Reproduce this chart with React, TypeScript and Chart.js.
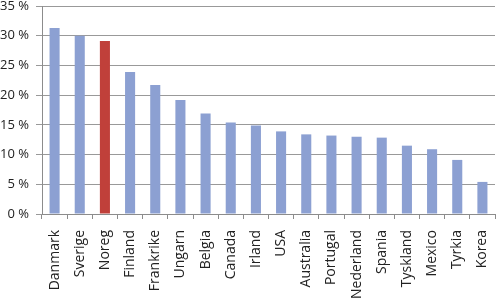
import React, { useEffect, useRef } from "react";
import { Chart, registerables } from "chart.js";

Chart.register(...registerables);

const categories = ["Danmark", "Sverige", "Noreg", "Finland", "Frankrike", "Ungarn", "Belgia", "Canada", "Irland", "USA", "Australia", "Portugal", "Nederland", "Spania", "Tyskland", "Mexico", "Tyrkia", "Korea"];
const values = [31.3, 30.0, 29.1, 23.9, 21.7, 19.2, 16.9, 15.4, 14.9, 13.9, 13.4, 13.2, 13.0, 12.85, 11.5, 10.9, 9.1, 5.4];
const highlight = "Noreg";
const yMax = 35;
const yStep = 5;

export default function App() {
  const ref = useRef<HTMLCanvasElement>(null);
  useEffect(() => {
    const ctx = ref.current!;
    const chart = new Chart(ctx, {
      type: "bar",
      data: {
        labels: categories,
        datasets: [
          {
            data: values,
            backgroundColor: categories.map((c) => (c === highlight ? "#c0403a" : "#8ca0d2")),
            barPercentage: 0.4,
            categoryPercentage: 1,
          },
        ],
      },
      options: {
        animation: false,
        responsive: false,
        maintainAspectRatio: false,
        layout: { padding: { top: 6, right: 5, left: 0, bottom: 0 } },
        plugins: { legend: { display: false }, tooltip: { enabled: false } },
        scales: {
          x: {
            grid: { drawOnChartArea: false, offset: true, tickLength: 5, color: "#8c8c8c" },
            border: { color: "#8c8c8c" },
            ticks: {
              minRotation: 90,
              maxRotation: 90,
              padding: 11,
              color: "#222",
              font: { family: "Open Sans", size: 14 },
              autoSkip: false,
            },
            afterFit: (s: any) => {
              s.height = 86;
              s.paddingLeft = 0;
              s.paddingRight = 0;
            },
          },
          y: {
            min: 0,
            max: yMax,
            grid: { color: "#999", tickLength: 6 },
            border: { color: "#8c8c8c" },
            ticks: {
              stepSize: yStep,
              padding: 7,
              color: "#222",
              font: { family: "Open Sans", size: 13 },
              callback: (v: any) => `${v} %`,
            },
            afterFit: (s: any) => {
              s.width = 42;
              s.paddingTop = 0;
              s.paddingBottom = 0;
            },
          },
        },
      },
    });
    return () => chart.destroy();
  }, []);
  return (
    <div style={{ position: "fixed", left: 0, top: 0, width: 500, height: 300, background: "#fff" }}>
      <canvas ref={ref} width={500} height={300} style={{ width: 500, height: 300 }} />
    </div>
  );
}
